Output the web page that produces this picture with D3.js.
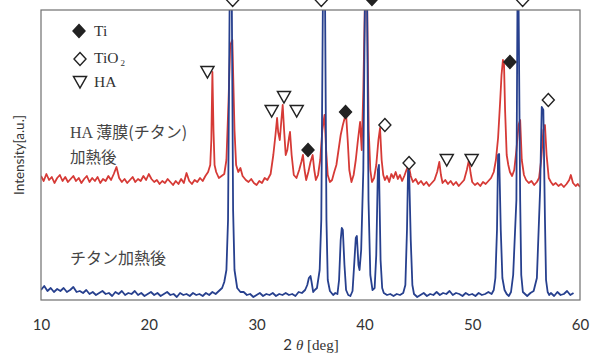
<!DOCTYPE html>
<html><head><meta charset="utf-8">
<script src="https://cdn.jsdelivr.net/npm/d3@7"></script>
<style>body{margin:0;background:#fff}svg{display:block}</style>
</head><body>
<svg id="c" width="597" height="357"></svg>
<script>
// 2θ [deg] tick labels
const xTicks = [10, 20, 30, 40, 50, 60];
// Blue pattern: "チタン加熱後" (2θ, intensity a.u.)
const blueTheta = [10.0,10.3,10.6,10.9,11.2,11.5,11.8,12.1,12.4,12.7,13.0,13.3,13.6,13.9,14.2,14.5,14.8,15.1,15.4,15.7,16.0,16.3,16.6,16.9,17.2,17.5,17.8,18.1,18.4,18.7,19.0,19.3,19.6,19.9,20.2,20.5,20.8,21.1,21.4,21.7,22.0,22.3,22.6,22.9,23.2,23.5,23.8,24.1,24.4,24.7,25.0,25.3,25.6,25.9,26.2,26.5,26.8,27.0,27.2,27.35,27.5,27.7,27.82,27.95,28.2,28.5,28.8,29.1,29.4,29.7,30.0,30.3,30.6,30.9,31.2,31.5,31.8,32.1,32.4,32.7,33.0,33.3,33.6,33.9,34.2,34.5,34.7,34.85,35.0,35.1,35.25,35.4,35.6,35.85,36.0,36.15,36.35,36.48,36.6,36.8,37.1,37.3,37.5,37.65,37.8,37.9,38.0,38.15,38.3,38.5,38.7,38.9,39.05,39.2,39.3,39.45,39.55,39.7,39.9,40.05,40.25,40.38,40.55,40.75,40.95,41.1,41.25,41.35,41.5,41.65,41.8,42.1,42.4,42.7,43.0,43.3,43.6,43.8,43.95,44.05,44.15,44.3,44.45,44.6,44.9,45.2,45.5,45.8,46.1,46.4,46.7,47.0,47.3,47.6,47.9,48.2,48.5,48.8,49.1,49.4,49.7,50.0,50.3,50.6,50.9,51.2,51.5,51.8,52.0,52.15,52.3,52.4,52.5,52.65,52.8,53.0,53.2,53.4,53.6,53.8,54.1,54.2,54.3,54.45,54.55,54.7,54.9,55.1,55.4,55.7,56.0,56.3,56.45,56.6,56.75,56.85,57.0,57.15,57.3,57.6,57.9,58.2,58.5,58.8,59.1,59.4,59.7,60.0];
const blueValue = [10,14,9,12,8,11,9,12,8,10,13,8,9,7,10,6,8,5,7,9,6,7,4,8,6,9,5,7,6,9,5,7,4,6,8,5,7,4,6,8,5,6,3,7,5,6,4,7,5,6,4,7,5,8,6,9,12,18,30,80,300,300,90,30,12,8,8,5,6,3,5,7,4,6,5,7,4,6,5,7,5,6,4,8,7,10,15,22,24,18,8,10,12,30,80,300,300,80,20,9,5,7,6,20,60,72,70,35,10,5,4,9,35,62,64,35,30,50,130,300,300,100,25,10,12,45,130,135,40,12,7,5,6,4,6,5,7,15,70,130,128,60,15,6,3,5,7,4,6,5,8,5,7,6,9,5,7,6,4,7,5,6,4,7,5,6,8,6,10,22,70,145,146,70,22,10,6,4,8,25,100,300,300,100,25,8,6,4,7,9,22,110,193,190,80,20,8,5,7,4,8,5,6,9,5,7];
// Red pattern: "HA 薄膜(チタン) 加熱後"
const redTheta = [10.0,10.25,10.5,10.75,11.0,11.25,11.5,11.75,12.0,12.25,12.5,12.75,13.0,13.25,13.5,13.75,14.0,14.25,14.5,14.75,15.0,15.25,15.5,15.75,16.0,16.25,16.5,16.75,17.0,17.25,17.5,17.75,18.0,18.25,18.5,18.75,19.0,19.25,19.5,19.75,20.0,20.25,20.5,20.75,21.0,21.25,21.5,21.75,22.0,22.25,22.5,22.75,23.0,23.25,23.5,23.75,24.0,24.25,24.5,24.75,25.0,25.25,25.5,25.7,25.8,25.9,26.0,26.1,26.25,26.5,26.75,27.0,27.2,27.4,27.55,27.75,27.95,28.1,28.3,28.5,28.7,29.0,29.25,29.5,29.75,30.0,30.25,30.5,30.75,31.0,31.3,31.55,31.75,31.9,32.0,32.15,32.3,32.42,32.55,32.7,32.85,33.0,33.1,33.25,33.45,33.7,33.95,34.15,34.3,34.45,34.6,34.8,35.0,35.2,35.35,35.5,35.7,35.9,36.1,36.3,36.45,36.6,36.8,37.0,37.2,37.4,37.6,37.8,38.0,38.2,38.3,38.45,38.6,38.8,39.0,39.2,39.4,39.6,39.75,39.9,40.05,40.25,40.4,40.55,40.7,40.9,41.1,41.3,41.45,41.6,41.75,41.9,42.1,42.3,42.5,42.7,42.9,43.1,43.3,43.5,43.7,43.9,44.1,44.3,44.5,44.75,45.0,45.25,45.5,45.75,46.0,46.25,46.5,46.75,46.95,47.1,47.25,47.5,47.75,48.0,48.25,48.5,48.75,49.0,49.25,49.5,49.7,49.85,50.0,50.25,50.5,50.75,51.0,51.25,51.5,51.75,52.0,52.2,52.4,52.6,52.72,52.85,52.95,53.05,53.2,53.35,53.5,53.7,53.9,54.1,54.3,54.45,54.6,54.8,55.0,55.25,55.5,55.75,56.0,56.2,56.4,56.6,56.75,56.9,57.1,57.3,57.5,57.75,58.0,58.25,58.5,58.75,59.0,59.15,59.35,59.6,59.8,60.0];
const redValue = [124,119,126,120,123,117,122,125,119,123,118,121,124,119,122,117,121,124,118,122,119,123,117,121,119,124,120,126,133,122,118,121,117,120,123,118,121,119,124,120,126,121,118,120,116,119,117,121,118,115,119,116,121,117,127,119,116,120,118,122,119,124,128,135,160,228,170,135,128,122,124,126,140,200,255,260,170,135,128,132,124,120,118,121,117,115,119,117,122,120,126,145,165,182,168,160,180,195,170,145,150,162,168,145,125,122,130,138,145,130,120,128,138,145,130,120,125,140,170,185,150,125,118,120,128,135,150,165,175,183,186,160,130,118,125,140,160,178,150,210,300,300,170,130,118,122,135,160,172,140,125,120,124,118,126,122,128,121,125,119,124,130,135,124,118,121,116,119,115,118,114,117,120,128,138,125,117,120,116,119,115,118,114,117,120,130,140,127,118,115,117,114,118,116,119,122,128,140,162,200,225,240,236,190,145,135,128,124,130,150,175,180,140,125,120,117,119,115,118,122,140,170,175,145,122,118,115,117,114,116,113,116,120,125,117,114,116,113];
// Peak markers (2θ, intensity)
const tiMarkers = [[34.77,150],[38.25,188],[40.7,301],[53.5,238]];
const tio2Markers = [[27.78,300],[36.0,300],[54.68,300],[41.9,175],[44.14,137],[57.06,200]];
const haMarkers = [[25.44,228],[31.4,189],[32.54,203],[33.72,189],[47.64,140],[49.95,140]];
const legendItems = ["Ti", "TiO", "HA"];

const svg = d3.select("#c");
const L = 41, R = 580, T = 10, B = 300;
const x = d3.scaleLinear().domain([10, 60]).range([L, R]);
const y = d3.scaleLinear().domain([0, 290]).range([B, T]);

svg.append("defs").append("clipPath").attr("id","clip")
  .append("rect").attr("x", L).attr("y", T).attr("width", R - L).attr("height", B - T);

const line = d3.line().x(d => x(d[0])).y(d => y(d[1]));
const red = redTheta.map((t, i) => [t, redValue[i]]);
const blue = blueTheta.map((t, i) => [t, blueValue[i]]);

const g = svg.append("g").attr("clip-path", "url(#clip)");
g.append("path").datum(red).attr("d", line).attr("fill","none")
  .attr("stroke","#d63a36").attr("stroke-width",1.8).attr("stroke-linejoin","round");
g.append("path").datum(blue).attr("d", line).attr("fill","none")
  .attr("stroke","#27408e").attr("stroke-width",1.8).attr("stroke-linejoin","round");

// frame
svg.append("rect").attr("x", L).attr("y", T).attr("width", R - L).attr("height", B - T)
  .attr("fill","none").attr("stroke","#6f6f6f").attr("stroke-width",1.2);

// x axis
const ax = svg.append("g").attr("transform", `translate(0,${B})`)
  .call(d3.axisBottom(x).tickValues(xTicks).tickSize(0).tickPadding(19).tickFormat(d3.format("d")));
ax.select(".domain").remove();
ax.selectAll("text").attr("font-family","Lato, 'Open Sans', sans-serif").attr("font-size",15).attr("fill","#333");

// markers
const diamond = (s, cx, cy, fill) => s.append("path")
  .attr("d", `M${cx},${cy-6.5}L${cx+6},${cy}L${cx},${cy+6.5}L${cx-6},${cy}Z`)
  .attr("fill", fill).attr("stroke","#222").attr("stroke-width",1.4);
const tri = (s, cx, cy) => s.append("path")
  .attr("d", `M${cx-6.5},${cy-5.5}L${cx+6.5},${cy-5.5}L${cx},${cy+6}Z`)
  .attr("fill","#fff").attr("stroke","#222").attr("stroke-width",1.5);

tiMarkers.forEach(d => diamond(svg, x(d[0]), y(d[1]), "#222"));
tio2Markers.forEach(d => diamond(svg, x(d[0]), y(d[1]), "#fff"));
haMarkers.forEach(d => tri(svg, x(d[0]), y(d[1])));

// legend
diamond(svg, 79, 31, "#222");
diamond(svg, 80, 59, "#fff");
tri(svg, 80, 82);
const serif = "'Liberation Serif', 'DejaVu Serif', serif";
svg.append("text").attr("x",94).attr("y",36).attr("font-family",serif).attr("font-size",15.5).attr("fill","#333").text(legendItems[0]);
const t2 = svg.append("text").attr("x",94).attr("y",63).attr("font-family",serif).attr("font-size",15.5).attr("fill","#333");
t2.append("tspan").text(legendItems[1]);
t2.append("tspan").attr("font-size",9).attr("dx",2).attr("dy",3).text("2");
svg.append("text").attr("x",94).attr("y",87).attr("font-family",serif).attr("font-size",15.5).attr("fill","#333").text(legendItems[2]);

// series labels
const jp = "'Noto Sans CJK JP', sans-serif";
const lab1 = svg.append("text").attr("x",70).attr("y",138).attr("font-size",16).attr("fill","#444").attr("font-family",jp);
lab1.append("tspan").attr("font-family",serif).text("HA ");
lab1.append("tspan").text("薄膜(チタン)");
svg.append("text").attr("x",70).attr("y",163).attr("font-family",jp).attr("font-size",15.5).attr("fill","#444").text("加熱後");
svg.append("text").attr("x",70).attr("y",264).attr("font-family",jp).attr("font-size",16).attr("fill","#444").text("チタン加熱後");

// axis titles
svg.append("text").attr("transform","translate(24,155) rotate(-90)").attr("text-anchor","middle")
  .attr("font-family","Lato, 'Open Sans', sans-serif").attr("font-size",13.5).attr("fill","#333").text("Intensity[a.u.]");
const xl = svg.append("text").attr("x",311).attr("y",350).attr("text-anchor","middle").attr("font-size",15).attr("fill","#333");
xl.append("tspan").attr("font-family","Lato, sans-serif").text("2 ");
xl.append("tspan").attr("font-family",serif).attr("font-style","italic").text("θ");
xl.append("tspan").attr("font-family",serif).text(" [deg]");
</script>
</body></html>
